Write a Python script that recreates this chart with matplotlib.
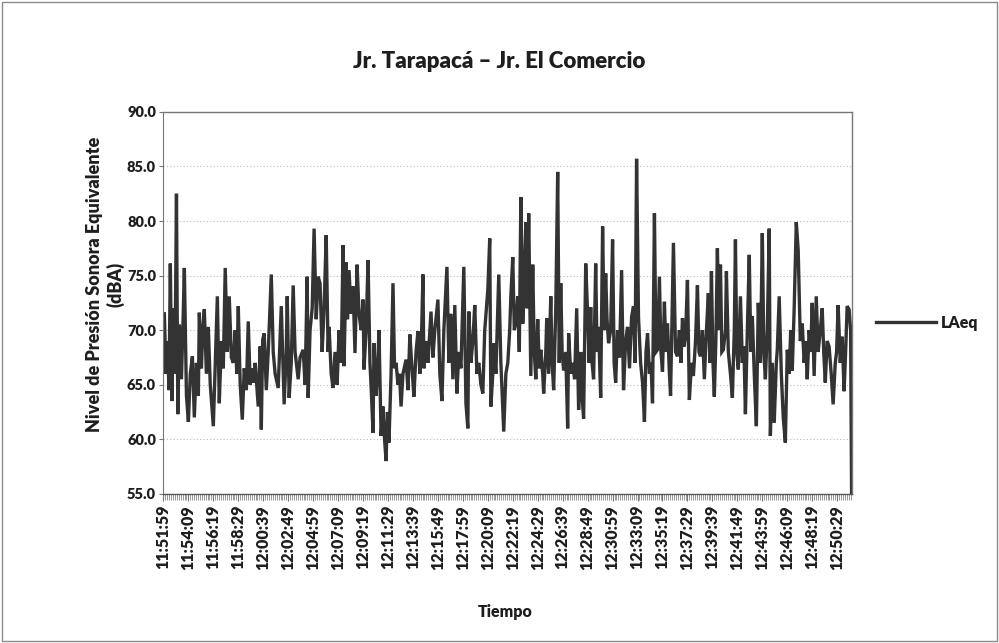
import matplotlib
matplotlib.use("Agg")
import matplotlib.pyplot as plt
from matplotlib.ticker import FixedLocator, MultipleLocator, FormatStrFormatter
import datetime as dt

plt.rcParams['font.family'] = ['Lato', 'DejaVu Sans']

title = "Jr. Tarapacá – Jr. El Comercio"
y_label = "Nivel de Presión Sonora Equivalente\n(dBA)"
x_label = "Tiempo"
series_name = "LAeq"
start_time = "11:51:59"
label_step_s = 130
n_labels = 28

# elapsed seconds since 11:51:59 and LAeq values (dBA)
elapsed_s = [
    5, 13, 21, 29, 36, 44, 52, 60, 68, 75, 83, 94, 104, 109, 120, 130, 140, 151, 161, 172,
    182, 187, 198, 205, 213, 224, 234, 244, 260, 270, 281, 291, 302, 312, 322, 333, 343, 354, 364, 374,
    382, 390, 400, 411, 421, 432, 442, 452, 460, 468, 478, 494, 504, 510, 517, 525, 536, 546, 562, 572,
    582, 598, 614, 624, 629, 640, 645, 655, 666, 676, 686, 702, 712, 728, 738, 749, 754, 764, 775, 785,
    796, 806, 816, 827, 837, 848, 858, 863, 874, 884,
    894, 905, 915, 926, 936, 941, 952, 959, 967, 978, 988, 998, 1009, 1019, 1030, 1040, 1045, 1056, 1066, 1076,
    1084, 1092, 1097, 1108, 1115, 1123, 1134, 1144, 1152, 1160, 1167, 1175, 1186, 1196, 1204, 1212, 1222, 1230, 1238, 1248,
    1264, 1274, 1284, 1295, 1305, 1316, 1326, 1336, 1344, 1352, 1357, 1368, 1378, 1394, 1404, 1414, 1430, 1440, 1451, 1461,
    1477, 1487, 1498, 1508, 1518, 1529, 1539, 1550, 1565, 1576, 1586, 1591, 1602, 1612, 1622, 1633, 1643, 1654, 1664, 1674,
    1690, 1700, 1706, 1716, 1721, 1732, 1747, 1758, 1765, 1773,
    1784, 1794, 1804, 1810, 1820, 1828, 1836, 1846, 1854, 1862, 1872, 1880, 1888, 1895, 1903, 1914, 1924, 1932, 1940, 1950,
    1958, 1966, 1976, 1981, 1992, 1997, 2007, 2018, 2025, 2033, 2044, 2054, 2062, 2070, 2077, 2085, 2096, 2106, 2111, 2122,
    2132, 2142, 2153, 2163, 2174, 2181, 2189, 2200, 2210, 2218, 2226, 2233, 2241, 2252, 2259, 2267, 2278, 2288, 2296, 2304,
    2311, 2319, 2330, 2340, 2348, 2356, 2366, 2376, 2387, 2397, 2408, 2418, 2428, 2439, 2449, 2457, 2465, 2475, 2486, 2496,
    2506, 2514, 2522, 2532, 2540, 2548, 2558, 2566, 2574, 2584, 2592, 2600, 2610, 2618, 2626, 2636, 2642,
    2657, 2668, 2678, 2688, 2696, 2704, 2712, 2720, 2730, 2740, 2751, 2761, 2772, 2782, 2790, 2798, 2808, 2818, 2829, 2839,
    2847, 2855, 2863, 2870, 2878, 2886, 2894, 2902, 2909, 2917, 2928, 2933, 2943, 2954, 2964, 2974, 2980, 2987, 2995, 3006,
    3016, 3024, 3032, 3042, 3052, 3060, 3068, 3078, 3089, 3099, 3110, 3120, 3128, 3136, 3146, 3156, 3162, 3172, 3182, 3193,
    3198, 3208, 3219, 3229, 3240, 3250, 3260, 3268, 3276, 3286, 3297, 3307, 3318, 3328, 3338, 3346, 3354, 3364, 3372, 3380,
    3390, 3401, 3411, 3422, 3432, 3440, 3448, 3458, 3468, 3479, 3489, 3500, 3507, 3515, 3526, 3536, 3546, 3554, 3562, 3572,
    3580, 3585,
]
laeq = [
    71.5, 66.0, 69.0, 64.5, 76.1, 63.5, 72.0, 66.0, 82.5, 62.3, 70.5, 65.5, 72.0, 75.7, 64.0, 61.6, 66.0, 67.6, 62.0, 67.0,
    64.0, 71.6, 66.5, 70.0, 71.9, 66.0, 70.3, 65.0, 61.2, 67.0, 73.1, 63.3, 69.0, 66.5, 75.7, 68.0, 73.1, 67.5, 67.0, 70.0,
    66.0, 72.2, 65.0, 61.8, 66.5, 64.5, 70.8, 65.0, 66.5, 65.2, 67.0, 63.0, 68.5, 60.9, 69.1, 69.7, 64.5, 68.0, 75.1, 68.0,
    66.0, 64.7, 72.2, 66.0, 63.2, 68.0, 73.1, 63.8, 67.0, 74.1, 68.0, 65.5, 67.5, 68.2, 65.0, 74.9, 63.8, 70.0, 72.0, 79.3,
    71.0, 74.9, 74.3, 68.0, 72.0, 78.7, 68.0, 70.3, 66.0, 64.7,
    68.0, 65.0, 70.0, 67.0, 77.8, 66.7, 76.2, 71.0, 75.5, 71.5, 74.0, 67.9, 76.0, 71.5, 70.0, 72.8, 66.4, 70.0, 76.4, 67.0,
    64.0, 60.6, 68.8, 64.0, 66.0, 70.0, 60.3, 63.0, 60.0, 58.0, 62.5, 59.7, 66.0, 74.3, 66.5, 67.0, 65.0, 66.0, 63.0, 66.0,
    67.3, 64.5, 69.6, 66.5, 63.9, 68.0, 69.9, 66.0, 69.0, 75.1, 66.5, 69.0, 67.0, 71.7, 67.5, 70.0, 72.8, 66.0, 63.5, 70.0,
    75.8, 67.0, 71.5, 65.5, 72.3, 64.2, 68.0, 66.5, 75.8, 63.3, 61.0, 71.7, 67.0, 69.0, 72.3, 66.0, 67.0, 65.0, 64.2, 70.0,
    73.7, 78.4, 63.0, 66.0, 68.8, 66.0, 75.1, 67.0, 64.0, 60.7,
    66.0, 67.0, 70.0, 73.1, 76.7, 70.0, 70.6, 73.1, 68.0, 82.2, 70.6, 75.0, 79.9, 72.0, 80.7, 65.8, 76.0, 68.0, 65.5, 71.0,
    66.5, 68.2, 66.0, 64.2, 68.0, 71.1, 66.0, 73.1, 67.0, 64.5, 72.0, 84.5, 67.0, 74.3, 68.0, 66.3, 68.0, 61.0, 69.7, 66.0,
    67.0, 65.5, 72.0, 62.7, 68.0, 64.0, 61.9, 76.1, 71.5, 67.0, 72.1, 67.0, 65.5, 76.1, 68.0, 70.3, 63.8, 79.5, 70.0, 75.2,
    71.0, 68.8, 70.0, 78.3, 67.0, 65.2, 70.0, 67.5, 75.5, 64.5, 69.0, 70.3, 66.5, 71.2, 72.2, 67.0, 85.7, 71.2, 67.0, 65.2,
    61.6, 68.0, 69.7, 66.0, 67.0, 63.3, 80.7, 68.0, 68.2, 74.9, 68.0, 66.2, 72.6, 68.0, 70.6, 66.0, 64.0,
    78.0, 68.0, 67.6, 70.0, 67.0, 71.1, 68.5, 69.4, 74.6, 63.6, 67.0, 65.8, 69.0, 74.1, 68.0, 67.6, 70.0, 65.5, 70.0, 73.4,
    67.0, 75.4, 67.0, 63.9, 69.0, 77.5, 70.0, 76.0, 68.0, 68.2, 70.0, 75.4, 68.0, 66.0, 63.8, 70.0, 78.3, 68.0, 66.4, 73.1,
    67.0, 68.5, 62.3, 70.0, 76.9, 68.0, 71.3, 66.0, 61.2, 72.5, 67.0, 78.9, 68.0, 65.5, 70.0, 79.3, 60.3, 67.0, 61.5, 67.0,
    68.2, 73.1, 66.0, 62.0, 59.7, 68.2, 66.0, 70.0, 66.3, 72.0, 79.9, 77.3, 69.0, 70.6, 67.0, 69.0, 65.5, 70.0, 68.0, 72.5,
    65.8, 73.1, 68.0, 70.0, 72.0, 68.0, 65.2, 69.0, 68.5, 66.0, 63.2, 67.0, 68.0, 72.3, 67.0, 69.4, 64.4, 68.0, 72.2, 71.9,
    70.0, 55.0,
]

y_ticks = [55.0, 60.0, 65.0, 70.0, 75.0, 80.0, 85.0, 90.0]

t0 = dt.datetime.strptime(start_time, "%H:%M:%S")
tick_pos = [i * label_step_s for i in range(n_labels)]
tick_lab = [(t0 + dt.timedelta(seconds=s)).strftime("%H:%M:%S") for s in tick_pos]

fig = plt.figure(figsize=(9.99, 6.43), dpi=100)
fig.patch.set_facecolor("white")
# outer chart border
fig.add_artist(plt.Rectangle((0.002, 0.003), 0.996, 0.994, transform=fig.transFigure,
                             fill=False, edgecolor="#8a8a8a", linewidth=1.0))

ax = fig.add_axes([0.163, 0.232, 0.690, 0.594])
ax.plot(elapsed_s, laeq, color="#333333", linewidth=2.4, solid_joinstyle="miter",
        label=series_name, clip_on=True)

ax.set_xlim(-3, 3588)
ax.set_ylim(55, 90)
ax.yaxis.set_major_locator(FixedLocator(y_ticks))
ax.yaxis.set_major_formatter(FormatStrFormatter("%.1f"))
ax.set_xticks(tick_pos)
ax.set_xticklabels(tick_lab, rotation=90, fontsize=11.5, fontweight="heavy", color="#1e1e1e")
ax.xaxis.set_minor_locator(MultipleLocator(10))
ax.tick_params(axis="x", which="major", length=5, width=0.8, color="#777777", pad=3)
ax.tick_params(axis="x", which="minor", length=4, width=0.6, color="#888888")
ax.tick_params(axis="y", which="major", length=3, width=0.8, color="#777777",
               labelsize=10.5, pad=2)
for lab in ax.get_yticklabels():
    lab.set_fontweight("heavy")
    lab.set_color("#1e1e1e")

ax.grid(axis="y", color="#bbbbbb", linestyle=(0, (1, 2)), linewidth=0.8)
ax.set_axisbelow(True)
for side in ["top", "right"]:
    ax.spines[side].set_linestyle((0, (1, 1)))
    ax.spines[side].set_color("#777777")
    ax.spines[side].set_linewidth(1.0)
ax.spines["left"].set_color("#777777")
ax.spines["left"].set_linestyle((0, (1, 1)))
ax.spines["bottom"].set_color("#555555")
ax.spines["bottom"].set_linewidth(1.0)

fig.text(0.50, 0.905, title, ha="center", va="center", fontsize=16, fontweight="heavy", color="#1e1e1e")
fig.text(0.105, 0.558, y_label, ha="center", va="center", rotation=90, fontsize=13,
         fontweight="heavy", color="#1e1e1e", linespacing=1.2)
fig.text(0.506, 0.048, x_label, ha="center", va="center", fontsize=11.5, fontweight="heavy", color="#1e1e1e")

leg = fig.legend(loc="center left", bbox_to_anchor=(0.862, 0.498), frameon=False,
                 handlelength=3.8, handletextpad=0.3, prop={"weight": "heavy", "size": 11.5})
for txt in leg.get_texts():
    txt.set_color("#1e1e1e")

fig.savefig("out.png", dpi=100, facecolor="white")
